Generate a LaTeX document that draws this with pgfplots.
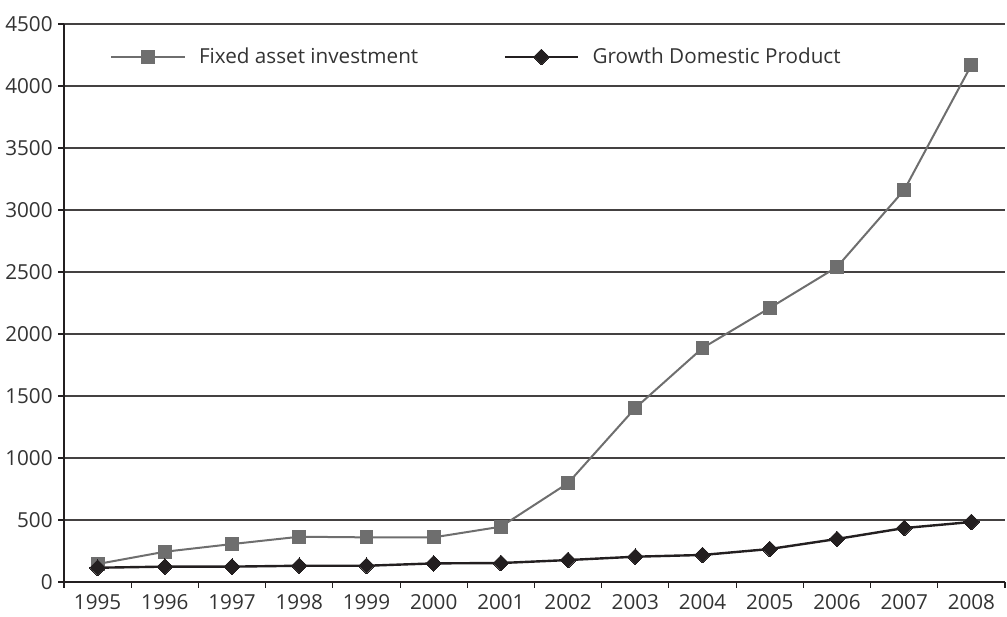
\documentclass[border=0pt]{standalone}
\usepackage{pgfplots}
\pgfplotsset{compat=1.18}
\usepackage{fontspec}
\setmainfont{Open Sans}
\definecolor{fai}{HTML}{6E6E6E}
\definecolor{gdp}{HTML}{231F20}
\definecolor{txt}{HTML}{333333}
\begin{document}
\begin{tikzpicture}[x=1pt,y=1pt]
\useasboundingbox (-48,-26.25) rectangle (707.25,436.5);
\begin{axis}[
  at={(0,0)}, anchor=south west,
  scale only axis,
  width=705.75pt, height=418.5pt,
  xmin=-0.5, xmax=13.5,
  ymin=0, ymax=4500,
  axis x line=bottom, axis y line=left,
  axis line style={-, line width=1.5pt, color=gdp},
  xtick={0,...,13},
  xticklabels={1995,1996,1997,1998,1999,2000,2001,2002,2003,2004,2005,2006,2007,2008},
  major x tick style={draw=none},
  minor xtick={-0.5,0.5,...,13.5},
  minor x tick style={line width=0.8pt, color=gdp},
  minor tick length=4.5pt,
  ytick={0,500,...,4500},
  major tick length=4.5pt,
  y tick style={line width=0.8pt, color=gdp},
  tick align=outside,
  ymajorgrids,
  major grid style={line width=0.8pt, color=gdp!85},
  /pgf/number format/assume math mode=true,
  /pgf/number format/1000 sep={},
  tick label style={font=\fontsize{15.5}{17}\selectfont, text=txt},
  xticklabel style={yshift=-1pt},
  yticklabel style={xshift=-0.5pt},
  clip=false,
  legend columns=2,
  legend style={draw=none, fill=none, at={(0.049,0.941)}, anchor=west,
    inner sep=0pt, font=\fontsize{15.5}{17}\selectfont, text=txt,
    /tikz/every odd column/.append style={column sep=8pt},
    /tikz/every even column/.append style={column sep=62pt}},
  legend image code/.code={\draw[mark repeat=2,mark phase=2,#1] plot coordinates {(0pt,0pt) (27.5pt,0pt) (55pt,0pt)};},
]
\addplot[color=fai, line width=1.5pt, mark=square*, mark size=4.8pt, mark options={solid, fill=fai, draw=fai, line width=0pt}]
coordinates {(0,145) (1,244) (2,306) (3,365) (4,360) (5,360) (6,446) (7,798) (8,1403) (9,1887) (10,2210) (11,2540) (12,3161) (13,4169)};
\addlegendentry{Fixed asset investment}
\addplot[color=gdp, line width=1.8pt, mark=square*, mark size=4.2pt, mark options={solid, rotate=45, fill=gdp, draw=gdp, line width=0pt}]
coordinates {(0,115) (1,124) (2,124) (3,131) (4,131) (5,150) (6,153) (7,177) (8,204) (9,218) (10,266) (11,347) (12,435) (13,484)};
\addlegendentry{Growth Domestic Product}
\end{axis}
\end{tikzpicture}
\end{document}
